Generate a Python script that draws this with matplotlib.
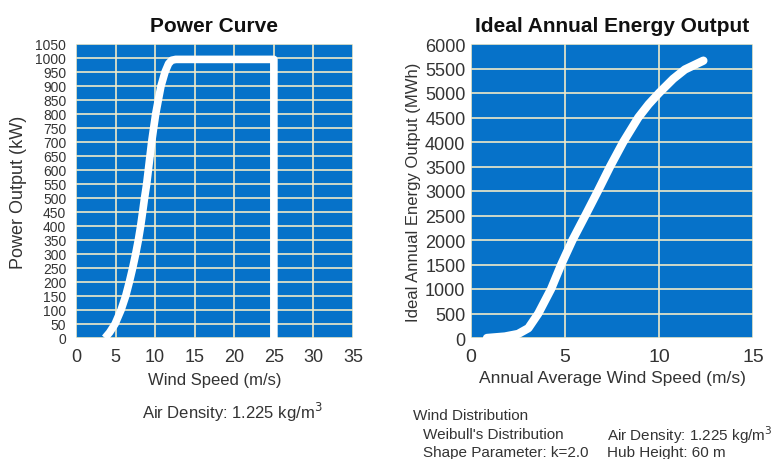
import matplotlib
matplotlib.use("Agg")
import matplotlib.pyplot as plt

# Power curve data (wind speed m/s, power kW)
wind_speed = [3.66, 4.25, 4.93, 5.69, 6.28, 6.74, 7.16, 7.54, 7.88, 8.17, 8.42, 8.66,
              8.93, 9.14, 9.35, 9.56, 9.81, 10.07, 10.4, 10.74, 11.25, 11.7, 12.1, 12.6,
              25.0, 25.0]
power_kw = [0, 20, 50, 100, 150, 200, 250, 300, 350, 400, 450, 500,
            550, 600, 650, 700, 750, 800, 850, 900, 950, 980, 992, 995,
            995, 0]

# Ideal annual energy output data (avg wind speed m/s, MWh)
avg_wind = [0.85, 1.8, 2.5, 3.05, 3.58, 4.26, 4.8, 5.4, 6.08, 6.75, 7.4, 8.1,
            8.9, 9.45, 10.0, 10.76, 11.38, 12.36]
energy_mwh = [0, 30, 82, 200, 500, 1000, 1500, 2000, 2500, 3000, 3500, 4000,
              4500, 4770, 5000, 5290, 5480, 5660]

left_xticks = [0, 5, 10, 15, 20, 25, 30, 35]
left_yticks = list(range(0, 1051, 50))
right_xticks = [0, 5, 10, 15]
right_yticks = list(range(0, 6001, 500))

BLUE = "#0672c9"
GRID = "#efeac8"
TXT = "#333333"
plt.rcParams['font.family'] = ['Liberation Sans', 'DejaVu Sans']

W, H = 783, 460
fig = plt.figure(figsize=(W/100, H/100), dpi=100)

ax1 = fig.add_axes([76/W, (H-339)/H, 277/W, 294/H])
ax2 = fig.add_axes([471/W, (H-339)/H, 282/W, 294/H])

for ax in (ax1, ax2):
    ax.set_facecolor(BLUE)
    for s in ax.spines.values():
        s.set_visible(False)
    ax.tick_params(length=0, colors=TXT)
    ax.grid(True, color=GRID, linewidth=1.2)
    ax.set_axisbelow(True)

ax1.plot(wind_speed, power_kw, color="white", linewidth=5.5,
         solid_capstyle="butt", solid_joinstyle="round")
ax1.set_xlim(0, 35)
ax1.set_ylim(0, 1050)
ax1.set_xticks(left_xticks)
ax1.set_yticks(left_yticks)
ax1.tick_params(axis='y', labelsize=10, pad=7)
ax1.tick_params(axis='x', labelsize=13, pad=7)
ax1.set_xlabel("Wind Speed (m/s)", fontsize=12, color=TXT, labelpad=5)
ax1.set_ylabel("Power Output (kW)", fontsize=13, color=TXT, labelpad=6)
ax1.set_title("Power Curve", fontsize=15, fontweight="bold", color="#111111", pad=9)

ax2.plot(avg_wind, energy_mwh, color="white", linewidth=6,
         solid_capstyle="round", solid_joinstyle="round")
ax2.set_xlim(0, 15)
ax2.set_ylim(0, 6000)
ax2.set_xticks(right_xticks)
ax2.set_yticks(right_yticks)
ax2.tick_params(axis='y', labelsize=13, pad=4)
ax2.tick_params(axis='x', labelsize=14, pad=7)
ax2.set_xlabel("Annual Average Wind Speed (m/s)", fontsize=12.5, color=TXT, labelpad=4)
ax2.set_ylabel("Ideal Annual Energy Output (MWh)", fontsize=12, color=TXT, labelpad=3)
ax2.set_title("Ideal Annual Energy Output", fontsize=15, fontweight="bold", color="#111111", pad=9)

fig.text(232/W, 1-412/H, "Air Density: 1.225 kg/m$^3$", ha="center", va="center",
         fontsize=12, color=TXT)

fig.text(413/W, 1-416/H, "Wind Distribution", ha="left", va="center", fontsize=11, color=TXT)
fig.text(423/W, 1-435/H, "Weibull's Distribution", ha="left", va="center", fontsize=11, color=TXT)
fig.text(423/W, 1-453/H, "Shape Parameter: k=2.0", ha="left", va="center", fontsize=11, color=TXT)
fig.text(607/W, 1-435/H, "Air Density: 1.225 kg/m$^3$", ha="left", va="center", fontsize=11, color=TXT)
fig.text(607/W, 1-453/H, "Hub Height: 60 m", ha="left", va="center", fontsize=11, color=TXT)

fig.savefig("out.png", dpi=100, facecolor="white")
